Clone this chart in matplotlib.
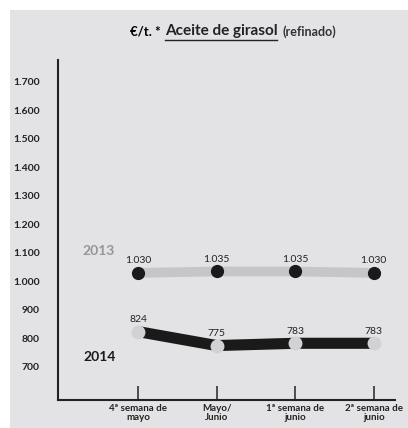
import matplotlib.pyplot as plt
import matplotlib.patches as mpatches

plt.rcParams['font.family'] = ['Lato', 'DejaVu Sans']

#Data
weeks = ['4ª semana de\nmayo', 'Mayo/\nJunio', '1ª semana de\njunio', '2ª semana de\njunio']
prices_2013 = [1030, 1035, 1035, 1030]
prices_2014 = [824, 775, 783, 783]
yticks = [700, 800, 900, 1000, 1100, 1200, 1300, 1400, 1500, 1600, 1700]
ytick_labels = ['700', '800', '900', '1.000', '1.100', '1.200', '1.300', '1.400', '1.500', '1.600', '1.700']
labels_2013 = ['1.030', '1.035', '1.035', '1.030']
labels_2014 = ['824', '775', '783', '783']

bg = '#e3e3e5'
light = '#c6c6c8'
dark = '#1a1a1a'

fig = plt.figure(figsize=(4.08, 4.28), dpi=100)
fig.patch.set_facecolor('white')
#grey panel behind everything
fig.patches.append(mpatches.Rectangle((10/408, 0), 1, 418/428, transform=fig.transFigure,
                                      facecolor=bg, edgecolor='none', zorder=-5))

ax = fig.add_axes([58/408, 28/428, 337/408, 340/428])
ax.set_facecolor('none')
x = list(range(len(weeks)))

ax.plot(x, prices_2013, color=light, lw=7, solid_capstyle='round', zorder=2)
ax.plot(x, prices_2013, 'o', color=dark, ms=8.5, zorder=3)
ax.plot(x, prices_2014, color=dark, lw=8, solid_capstyle='butt', zorder=2)
ax.plot(x, prices_2014, 'o', color='#d2d2d4', ms=9, zorder=3)

for xi, v, t in zip(x, prices_2013, labels_2013):
    ax.text(xi, v + 26, t, ha='center', va='bottom', fontsize=7.5, color='#222222')
for xi, v, t in zip(x, prices_2014, labels_2014):
    ax.text(xi, v + 26, t, ha='center', va='bottom', fontsize=7.5, color='#222222')

ax.text(-0.71, 1107, '2013', fontsize=10, fontweight='bold', color='#959595', va='center')
ax.text(-0.70, 735, '2014', fontsize=10, fontweight='bold', color=dark, va='center')

ax.set_xlim(-1.02, 3.27)
ax.set_ylim(584, 1777)
ax.set_yticks(yticks)
ax.set_yticklabels(ytick_labels, fontsize=7.5, fontweight='bold', color='#222222')
ax.tick_params(axis='y', length=0, pad=13)
ax.set_xticks(x)
ax.set_xticklabels(weeks, fontsize=7, fontweight='bold', color='#222222', linespacing=0.95)
ax.tick_params(axis='x', direction='in', length=10, width=1.2, color='#333333', pad=3)

for s in ['top', 'right']:
    ax.spines[s].set_visible(False)
for s in ['left', 'bottom']:
    ax.spines[s].set_linewidth(1.5)
    ax.spines[s].set_color('#222222')

#title pieces, placed one after the other
ty = 1 - 31/428
r = fig.canvas.get_renderer()
t1 = fig.text(130/408, ty, '€/t. *', fontsize=9.5, fontweight='bold', va='center', ha='left')
x1 = fig.transFigure.inverted().transform(t1.get_window_extent(r))[1][0] + 4/408
t2 = fig.text(x1, ty, 'Aceite de girasol', fontsize=11, fontweight='bold',
              va='center', ha='left', color='#222222')
e2 = fig.transFigure.inverted().transform(t2.get_window_extent(r))
fig.lines.append(plt.Line2D([e2[0][0], e2[1][0]], [1 - 40/428, 1 - 40/428], transform=fig.transFigure,
                            color='#222222', lw=1))
fig.text(e2[1][0] + 5/408, ty - 1/428, '(refinado)', fontsize=9, fontweight='bold', va='center', ha='left',
         color='#333333')

fig.savefig('out.png', dpi=100)
